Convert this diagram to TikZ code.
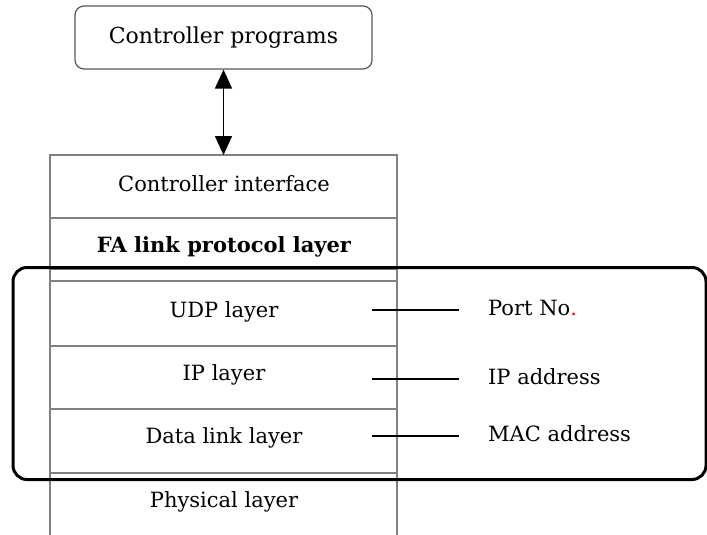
\documentclass[tikz,border=0pt]{standalone}
\usepackage{fontspec}
\setmainfont{DejaVu Serif}
\usetikzlibrary{arrows.meta}
\begin{document}
\begin{tikzpicture}[x=1pt,y=-1pt,
  layerline/.style={draw=black!50,line width=1.3pt},
  lbl/.style={font=\fontsize{21}{25}\selectfont,inner sep=0pt,anchor=center},
  sidelbl/.style={font=\fontsize{21}{25}\selectfont,inner sep=0pt,anchor=west},
  pointer/.style={draw=black,line width=1.3pt},
  bigbox/.style={draw=black,line width=3pt,rounded corners=14pt},
  progbox/.style={draw=black!65,line width=1.2pt,rounded corners=9pt,minimum width=297pt,minimum height=63pt,font=\fontsize{22}{26}\selectfont,inner sep=0pt},
  dblarrow/.style={line width=1.5pt,{Triangle[width=17pt,length=19pt]}-{Triangle[width=17pt,length=19pt]}}
]
\useasboundingbox (0,0) rectangle (707,535);
% top box
\node[progbox] (prog) at (223.5,37.5) {Controller programs};
% stack outline
\draw[layerline] (50,535) -- (50,155) -- (397,155) -- (397,535);
\draw[layerline] (50,218) -- (397,218);
\draw[layerline] (50,269) -- (397,269);
\draw[layerline] (50,281) -- (397,281);
\draw[layerline] (50,346) -- (397,346);
\draw[layerline] (50,409) -- (397,409);
\draw[layerline] (50,473) -- (397,473);
\coordinate (stacktop) at (223.5,155);
\draw[dblarrow] (prog.south) -- (stacktop);
% layer labels
\node[lbl] (ci) at (224,184) {Controller interface};
\node[lbl] (fa) at (224,247) {\bfseries FA link protocol layer};
\node[lbl] (udp) at (224,312) {UDP layer};
\node[lbl] (ip) at (224,375) {IP layer};
\node[lbl] (dl) at (224,438) {Data link layer};
\node[lbl] (phy) at (224,502) {Physical layer};
% thick rounded box
\draw[bigbox] (13,267.5) rectangle (706,479.5);
% side labels
\node[sidelbl] (port) at (488,308) {Port No\textcolor{red}{.}};
\node[sidelbl] (ipa) at (488,377) {IP address};
\node[sidelbl] (mac) at (488,434) {MAC address};
\coordinate (p1) at (372,310);
\coordinate (p2) at (372,379);
\coordinate (p3) at (372,436);
\draw[pointer] (p1) -- (459,310);
\draw[pointer] (p2) -- (459,379);
\draw[pointer] (p3) -- (459,436);
\end{tikzpicture}
\end{document}
